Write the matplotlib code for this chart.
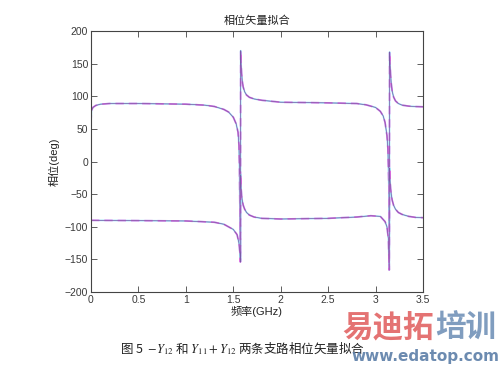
import numpy as np
import matplotlib
matplotlib.use("Agg")
import matplotlib.pyplot as plt

plt.rcParams['font.family'] = ['Liberation Sans', 'Noto Sans CJK SC', 'DejaVu Sans']
plt.rcParams['mathtext.fontset'] = 'stix'

# frequency (GHz) / phase (deg)
f_up = [0.0, 0.005, 0.02, 0.05, 0.1, 0.2, 0.5, 1.0, 1.2, 1.3, 1.4, 1.45, 1.5, 1.53,
        1.55, 1.56, 1.565, 1.57, 1.575, 1.578, 1.582, 1.588, 1.595, 1.605, 1.62, 1.64,
        1.67, 1.72, 1.8, 2.0, 2.5, 2.8, 2.9, 2.95, 3.0, 3.05, 3.08, 3.1, 3.12, 3.13,
        3.14, 3.144, 3.148, 3.152, 3.158, 3.165, 3.175, 3.19, 3.21, 3.24, 3.28, 3.35,
        3.42, 3.5]
ph_up = [58, 78, 83, 86, 88, 89, 89, 88, 86.5, 84.5, 80, 76, 68, 58,
         45, 25, -10, -80, -152, 170, 150, 135, 123, 114, 107, 102,
         98.5, 96, 94, 91, 90, 89, 87, 85, 83, 77, 70, 60, 40, 20,
         -40, -166, 168, 150, 134, 120, 108, 99, 93, 89, 86.5, 85,
         84.3, 84]

f_lo = [0.0, 0.5, 1.0, 1.3, 1.4, 1.5, 1.54, 1.56, 1.57, 1.575, 1.578, 1.582, 1.588,
        1.595, 1.605, 1.62, 1.64, 1.67, 1.72, 1.8, 2.0, 2.5, 2.8, 2.95, 3.05, 3.1,
        3.12, 3.135, 3.144, 3.148, 3.152, 3.158, 3.165, 3.175, 3.19, 3.21, 3.24,
        3.28, 3.35, 3.42, 3.5]
ph_lo = [-90, -90.5, -91, -93, -96, -104, -112, -125, -140, -154, -20, -40, -52,
         -60, -67, -73, -78, -82, -85, -87, -88, -87, -85, -83, -84, -92,
         -100, -118, -166, -10, -28, -40, -50, -59, -67, -73, -78,
         -81, -84, -85.5, -86]

x_ticks = [0, 0.5, 1, 1.5, 2, 2.5, 3, 3.5]
y_ticks = [-200, -150, -100, -50, 0, 50, 100, 150, 200]

fig = plt.figure(figsize=(5, 3.66), dpi=100)
ax = fig.add_axes([0.182, 0.202, 0.664, 0.713])

for fx, py in [(f_up, ph_up), (f_lo, ph_lo)]:
    ax.plot(fx, py, color='#9fe2f5', lw=1.2)
    ax.plot(fx, py, color='#e36ee3', lw=1.2, linestyle=(0, (5, 3)))
    ax.plot(fx, py, color='#7a5aa6', lw=0.5)

ax.set_xlim(0, 3.5)
ax.set_ylim(-200, 200)
ax.set_xticks(x_ticks)
ax.set_xticklabels(['0', '0.5', '1', '1.5', '2', '2.5', '3', '3.5'])
ax.set_yticks(y_ticks)
ax.tick_params(direction='in', top=True, right=True, length=4, width=0.6,
               labelsize=7.5, labelcolor='#3a3a3a', color='#444444', pad=2)
for s in ax.spines.values():
    s.set_linewidth(0.8)
    s.set_color('#444444')

ax.set_title('相位矢量拟合', fontsize=8, color='#222222', pad=5)
ax.set_xlabel('频率(GHz)', fontsize=8, color='#222222', labelpad=1)
ax.set_ylabel('相位(deg)', fontsize=8, color='#222222', labelpad=4)

fig.text(0.24, 0.025, r'图 5  $-Y_{12}$ 和 $Y_{11}+Y_{12}$ 两条支路相位矢量拟合',
         fontsize=9, family='Noto Sans CJK SC', color='#222222', ha='left', va='bottom')

# watermark
fig.text(0.685, 0.06, '易迪拓', fontsize=22, fontweight='bold', color='#e05a5a',
         family=['Noto Sans CJK SC', 'DejaVu Sans'], alpha=0.85, ha='left', va='bottom')
fig.text(0.87, 0.06, '培训', fontsize=22, fontweight='bold', color='#6a8cb4',
         family=['Noto Sans CJK SC', 'DejaVu Sans'], alpha=0.85, ha='left', va='bottom')
fig.text(0.998, 0.005, 'www.edatop.com', fontsize=11, fontweight='bold', color='#5c7ea8',
         family='DejaVu Sans', alpha=0.9, ha='right', va='bottom')

fig.savefig('out.png', dpi=100)
